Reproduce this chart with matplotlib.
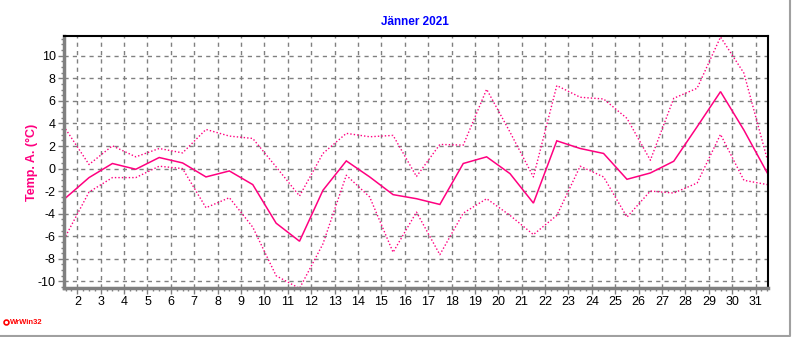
import matplotlib
matplotlib.use("Agg")
import matplotlib.pyplot as plt
from matplotlib.ticker import MultipleLocator, FixedLocator
from matplotlib.lines import Line2D

plt.rcParams['font.family'] = ['Liberation Sans', 'DejaVu Sans']

days = list(range(1, 32))
t_mean = [-2.6, -0.8, 0.45, -0.06, 0.98, 0.5, -0.74, -0.21, -1.42, -4.84, -6.44, -1.93, 0.68,
          -0.74, -2.31, -2.67, -3.18, 0.45, 1.04, -0.45, -3.06, 2.46, 1.78, 1.34, -0.95, -0.39,
          0.65, 3.71, 6.82, 3.41, -0.39]
t_max = [3.5, 0.36, 2.02, 1.04, 1.78, 1.39, 3.47, 2.88, 2.67, 0.15, -2.43, 1.34, 3.12, 2.82,
         2.94, -0.7, 2.14, 2.08, 7.03, 3.23, -0.74, 7.36, 6.32, 6.17, 4.45, 0.74, 6.23, 7.12,
         11.66, 8.46, 0.8]
t_min = [-5.99, -2.08, -0.8, -0.8, 0.21, 0.0, -3.47, -2.58, -5.19, -9.5, -10.62, -6.68, -0.59,
         -2.52, -7.42, -3.86, -7.63, -3.95, -2.67, -4.15, -5.85, -4.15, 0.21, -0.74, -4.3,
         -1.99, -2.17, -1.28, 3.03, -1.04, -1.42]
xticks = list(range(2, 32))
yticks = list(range(-10, 11, 2))

color = '#FF0080'
W, H = 792, 337
fig = plt.figure(figsize=(W / 100, H / 100), dpi=100)
ax = fig.add_axes([64 / W, 1 - 287.5 / H, (768 - 64) / W, (287.5 - 36) / H])

x = [d + 0.5 for d in days]
ax.plot(x, t_mean, color=color, lw=1.1, solid_joinstyle='miter', clip_on=True)
ax.plot(x, t_max, color=color, lw=1.0, linestyle=(0, (1, 1.5)))
ax.plot(x, t_min, color=color, lw=1.0, linestyle=(0, (1, 1.5)))

ax.set_xlim(1.43, 31.53)
ax.set_ylim(-10.54, 11.75)
ax.xaxis.set_major_locator(FixedLocator(xticks))
ax.xaxis.set_minor_locator(MultipleLocator(0.25))
ax.yaxis.set_major_locator(FixedLocator(yticks))
ax.yaxis.set_minor_locator(MultipleLocator(0.5))
ax.set_xticklabels([str(t) for t in xticks])
ax.set_yticklabels([str(t) for t in yticks])

ax.grid(True, which='major', color='#808080', linestyle=(0, (3, 3)), lw=1.0)
ax.tick_params(axis='both', which='major', labelsize=9, length=4, width=1, color='#808080', pad=2)
ax.tick_params(axis='both', which='minor', length=2, width=1, color='#808080')

for s in ('left', 'bottom'):
    ax.spines[s].set_color('#808080')
    ax.spines[s].set_linewidth(2.5)
for s in ('top', 'right'):
    ax.spines[s].set_color('black')
    ax.spines[s].set_linewidth(1.5)

fig.text(415 / W, 1 - 22 / H, 'Jänner 2021', color='#0000FF', fontsize=8.5,
         fontweight='bold', ha='center', va='center')
fig.text(32 / W, 1 - 162 / H, 'Temp. A. (°C)', color=color, fontsize=9, fontweight='bold',
         rotation=90, ha='center', va='center')
fig.text(10 / W, 1 - 322 / H, 'WrWin32', color='#FF0000', fontsize=5.5, fontweight='bold',
         ha='left', va='center')
fig.add_artist(Line2D([5.5 / W], [1 - 321.5 / H], marker='o', markersize=3.5, mfc='white',
                      mec='#FF0000', mew=1.2, transform=fig.transFigure))
# panel border
fig.add_artist(Line2D([0, 790 / W, 790 / W], [1 - 335.5 / H, 1 - 335.5 / H, 1],
                      color='#A0A0A0', lw=1.5, transform=fig.transFigure))

fig.savefig('out.png', dpi=100)
